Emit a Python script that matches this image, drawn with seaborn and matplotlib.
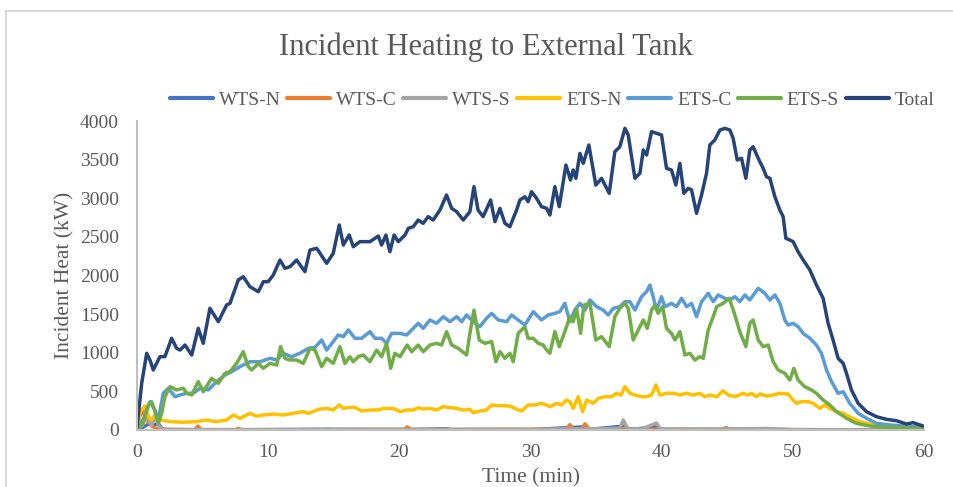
import matplotlib
matplotlib.use("Agg")
import matplotlib.pyplot as plt
from matplotlib.lines import Line2D
import pandas as pd
import seaborn as sns

# Series names and colours (legend order = drawing order)
series_names = ["WTS-N", "WTS-C", "WTS-S", "ETS-N", "ETS-C", "ETS-S", "Total"]
series_colors = ["#4472C4", "#ED7D31", "#A5A5A5", "#FFC000", "#5B9BD5", "#70AD47", "#264478"]

# (time [min], incident heat [kW]) samples for each surface group
wts_n = [(0, 0), (0.5, 40), (0.9, 80), (1.3, 60), (1.6, 90), (1.9, 20), (2.3, 0), (10, 5),
         (14.5, 10), (20, 5), (23.6, 15), (24, 5), (30, 5), (34.0, 40), (34.3, 5), (37.1, 50),
         (37.4, 5), (39.6, 40), (39.9, 5), (45, 5), (50, 0), (60, 0)]

wts_c = [(0, 0), (0.2, 180), (0.5, 240), (0.8, 130), (1.1, 50), (1.5, 20), (2.0, 10), (4.4, 5),
         (4.65, 50), (4.9, 5), (7.5, 5), (7.7, 20), (8, 5), (15, 5), (20.4, 10), (20.6, 40),
         (20.9, 5), (26, 10), (31, 10), (32.7, 10), (33.0, 70), (33.3, 10), (33.9, 15),
         (34.15, 80), (34.5, 10), (37, 15), (37.3, 30), (37.6, 10), (41, 10), (44.6, 10),
         (44.9, 30), (45.2, 10), (48, 10), (50, 5), (60, 0)]

wts_s = [(0, 0), (0.4, 60), (0.8, 200), (1.1, 60), (1.4, 170), (1.7, 40), (2.1, 5), (10, 3),
         (20, 5), (30, 5), (33.2, 15), (36.8, 20), (37.07, 130), (37.4, 20), (38.5, 15),
         (39.6, 90), (39.9, 15), (42, 10), (46, 15), (48, 20), (50, 5), (60, 0)]

ets_n = [(0, 0), (0.23, 237), (0.61, 310), (0.86, 172), (1.1, 130), (1.4, 200), (1.75, 129),
         (2.5, 110), (3.5, 100), (4.5, 108), (5.3, 129), (6.0, 108), (6.83, 129), (7.34, 194),
         (7.85, 151), (8.61, 216), (9.1, 180), (9.63, 194), (10.4, 206), (11.15, 194),
         (11.9, 216), (12.68, 237), (13.1, 216), (13.82, 267), (14.46, 280), (14.96, 259),
         (15.42, 324), (15.73, 280), (16.23, 293), (16.62, 293), (17.13, 246), (17.76, 259),
         (18.4, 259), (18.78, 280), (19.28, 280), (19.66, 272), (20.05, 237), (20.56, 259),
         (21.06, 259), (21.44, 289), (21.82, 272), (22.33, 280), (22.84, 259), (23.35, 302),
         (23.86, 289), (24.37, 280), (24.87, 259), (25.38, 267), (25.63, 224), (26.14, 246),
         (26.65, 259), (27.04, 324), (27.54, 315), (28.05, 315), (28.43, 310), (28.94, 270),
         (29.32, 246), (29.82, 324), (30.33, 324), (30.84, 345), (31.2, 324), (31.48, 302),
         (32.0, 345), (32.37, 324), (32.75, 388), (33.0, 367), (33.26, 280), (33.64, 431),
         (33.97, 237), (34.28, 388), (34.79, 345), (35.17, 410), (35.67, 431), (36.18, 431),
         (36.56, 475), (36.9, 453), (37.2, 561), (37.58, 475), (37.96, 453), (38.47, 431),
         (38.85, 431), (39.23, 453), (39.56, 582), (39.86, 453), (40.37, 475), (40.9, 475),
         (41.4, 453), (41.9, 475), (42.4, 453), (42.91, 475), (43.3, 431), (43.67, 453),
         (44.2, 431), (44.69, 509), (45.07, 453), (45.58, 431), (46.21, 475), (46.59, 453),
         (46.85, 475), (47.23, 431), (47.49, 466), (48.0, 440), (48.5, 453), (49.01, 475),
         (49.64, 466), (50.02, 388), (50.28, 345), (50.66, 367), (51.17, 367), (51.55, 345),
         (52.06, 280), (52.44, 324), (52.82, 280), (53.33, 237), (53.84, 216), (54.34, 172),
         (55.11, 108), (56.13, 65), (57.4, 43), (59.93, 22)]

ets_c = [(0, 0), (0.3, 80), (0.61, 194), (0.99, 366), (1.37, 259), (1.62, 129), (2.0, 475),
         (2.39, 540), (2.9, 431), (3.28, 453), (3.79, 475), (4.29, 475), (4.8, 540), (5.43, 518),
         (6.07, 626), (6.71, 712), (7.22, 755), (7.85, 820), (8.61, 884), (9.38, 884),
         (10.14, 928), (10.65, 906), (11.15, 993), (11.79, 949), (12.42, 993), (13.06, 1057),
         (13.57, 1070), (14.08, 1165), (14.46, 1035), (14.96, 1144), (15.34, 1230),
         (15.73, 1208), (16.11, 1295), (16.62, 1187), (17.13, 1187), (17.76, 1273),
         (18.14, 1187), (18.65, 1187), (19.03, 1122), (19.41, 1251), (20.05, 1251),
         (20.56, 1230), (21.06, 1316), (21.44, 1381), (21.82, 1316), (22.33, 1424),
         (22.84, 1381), (23.35, 1467), (23.86, 1402), (24.37, 1467), (24.75, 1402),
         (25.13, 1489), (25.63, 1402), (26.14, 1338), (26.65, 1446), (27.04, 1510),
         (27.54, 1424), (28.18, 1402), (28.56, 1489), (29.06, 1424), (29.57, 1359),
         (30.21, 1532), (30.84, 1424), (31.35, 1489), (31.86, 1510), (32.24, 1532),
         (32.62, 1640), (33.0, 1402), (33.38, 1553), (33.77, 1640), (34.15, 1553),
         (34.53, 1683), (35.04, 1597), (35.54, 1553), (35.92, 1489), (36.31, 1575),
         (36.81, 1597), (37.2, 1661), (37.58, 1661), (37.96, 1553), (38.47, 1726),
         (38.85, 1790), (39.1, 1877), (39.35, 1726), (39.61, 1553), (39.99, 1726),
         (40.24, 1597), (40.75, 1640), (41.13, 1597), (41.52, 1705), (41.9, 1597),
         (42.28, 1640), (42.66, 1467), (43.04, 1661), (43.55, 1769), (43.93, 1661),
         (44.31, 1748), (44.82, 1705), (45.2, 1683), (45.58, 1726), (45.96, 1661),
         (46.34, 1748), (46.72, 1683), (47.36, 1834), (47.87, 1769), (48.25, 1683),
         (48.63, 1748), (49.01, 1640), (49.39, 1424), (49.64, 1359), (50.02, 1381),
         (50.4, 1338), (50.79, 1251), (51.3, 1187), (51.8, 1100), (52.18, 993), (52.57, 777),
         (52.95, 626), (53.45, 475), (53.84, 496), (54.34, 345), (54.98, 216), (55.62, 151),
         (56.38, 86), (57.4, 65), (58.4, 52), (59.93, 35)]

ets_s = [(0, 0), (0.48, 108), (0.86, 324), (1.12, 366), (1.37, 237), (1.62, 86), (1.88, 216),
         (2.13, 431), (2.52, 561), (3.02, 518), (3.53, 540), (3.79, 475), (4.17, 453),
         (4.67, 626), (5.05, 496), (5.69, 669), (6.2, 604), (6.71, 734), (7.09, 755),
         (7.6, 863), (8.1, 1014), (8.48, 820), (8.74, 777), (9.25, 863), (9.63, 798),
         (10.14, 863), (10.65, 841), (10.95, 1079), (11.28, 928), (11.66, 906), (12.17, 906),
         (12.68, 863), (13.19, 1057), (13.57, 1035), (14.08, 820), (14.46, 928), (14.96, 863),
         (15.47, 1079), (15.85, 863), (16.23, 949), (16.49, 884), (16.87, 949), (17.25, 971),
         (17.76, 884), (18.27, 1035), (18.65, 949), (19.03, 1122), (19.34, 798), (19.66, 993),
         (20.05, 949), (20.6, 1100), (20.94, 1014), (21.44, 1100), (21.82, 1014), (22.33, 1100),
         (22.84, 1122), (23.22, 1100), (23.6, 1273), (23.99, 1100), (24.49, 1057), (25.13, 971),
         (25.38, 1251), (25.69, 1553), (26.09, 1165), (26.52, 1122), (27.04, 1144),
         (27.36, 884), (27.67, 1014), (28.05, 928), (28.43, 993), (28.68, 884), (29.06, 1251),
         (29.57, 1338), (29.82, 1187), (30.21, 1187), (30.59, 1122), (30.97, 1100),
         (31.23, 1035), (31.48, 993), (31.86, 1273), (32.19, 1079), (32.62, 1273),
         (33.0, 1467), (33.26, 1402), (33.51, 1575), (33.82, 1251), (34.07, 1618),
         (34.53, 1640), (34.98, 1165), (35.42, 1208), (36.0, 1079), (36.43, 1467),
         (36.81, 1575), (37.2, 1640), (37.45, 1575), (37.83, 1165), (38.22, 1295),
         (38.6, 1424), (38.9, 1316), (39.23, 1553), (39.48, 1618), (39.73, 1510),
         (40.07, 1597), (40.37, 1316), (40.75, 1251), (41.01, 1165), (41.39, 1273),
         (41.77, 971), (42.15, 993), (42.53, 906), (42.91, 949), (43.17, 928), (43.55, 1295),
         (43.93, 1467), (44.2, 1597), (44.69, 1640), (45.15, 1705), (45.5, 1532),
         (45.96, 1273), (46.42, 1079), (46.72, 1381), (46.97, 1424), (47.36, 1165),
         (47.74, 1079), (48.12, 1100), (48.5, 884), (48.88, 777), (49.39, 734), (49.77, 647),
         (50.08, 798), (50.4, 647), (50.91, 561), (51.42, 518), (51.8, 475), (52.31, 388),
         (52.82, 324), (53.33, 237), (54.09, 151), (54.85, 86), (55.87, 52), (57.14, 35),
         (59.93, 22)]

total = [(0, 30), (0.36, 608), (0.74, 993), (1.0, 900), (1.24, 777), (1.75, 949), (2.13, 950),
         (2.64, 1187), (3.02, 1057), (3.28, 1035), (3.66, 1100), (4.17, 971), (4.67, 1316),
         (5.05, 1122), (5.56, 1575), (6.2, 1402), (6.83, 1618), (7.09, 1640), (7.72, 1942),
         (8.1, 1985), (8.61, 1855), (9.25, 1790), (9.63, 1920), (10.0, 1920), (10.39, 2006),
         (10.9, 2200), (11.28, 2093), (11.66, 2114), (12.17, 2200), (12.8, 2050), (13.19, 2330),
         (13.7, 2352), (14.46, 2158), (14.96, 2287), (15.42, 2654), (15.73, 2395),
         (16.18, 2524), (16.49, 2373), (17.0, 2438), (17.76, 2438), (18.4, 2511),
         (18.65, 2395), (18.98, 2524), (19.28, 2308), (19.6, 2524), (19.92, 2438),
         (20.43, 2524), (20.69, 2611), (21.06, 2632), (21.44, 2718), (21.82, 2675),
         (22.2, 2762), (22.58, 2718), (23.1, 2848), (23.6, 3042), (23.99, 2869), (24.37, 2826),
         (24.87, 2718), (25.38, 2826), (25.69, 3150), (26.0, 2848), (26.39, 2762),
         (26.96, 2977), (27.29, 2697), (27.67, 2869), (28.05, 2675), (28.43, 2632),
         (28.94, 2848), (29.19, 2977), (29.57, 3020), (29.82, 2956), (30.08, 3085),
         (30.46, 2999), (30.84, 2891), (31.23, 2869), (31.48, 2783), (31.86, 3150),
         (32.19, 2891), (32.7, 3430), (33.05, 3236), (33.25, 3366), (33.46, 3258),
         (33.77, 3581), (34.02, 3452), (34.45, 3689), (34.98, 3171), (35.42, 3258),
         (36.0, 3064), (36.43, 3602), (36.81, 3667), (37.2, 3905), (37.45, 3819),
         (37.96, 3258), (38.34, 3323), (38.6, 3625), (38.85, 3560), (39.23, 3862),
         (39.61, 3840), (39.99, 3819), (40.37, 3387), (40.75, 3366), (41.08, 3171),
         (41.39, 3452), (41.69, 3064), (42.02, 3128), (42.28, 3107), (42.66, 2805),
         (43.04, 3042), (43.42, 3323), (43.67, 3689), (44.05, 3754), (44.44, 3883),
         (44.82, 3905), (45.2, 3883), (45.45, 3776), (45.76, 3495), (46.09, 3517),
         (46.42, 3258), (46.72, 3625), (46.97, 3667), (47.36, 3517), (47.74, 3387),
         (47.99, 3279), (48.25, 3258), (48.63, 3020), (49.01, 2848), (49.26, 2762),
         (49.47, 2481), (49.77, 2460), (50.02, 2438), (50.4, 2308), (50.79, 2200),
         (51.3, 2071), (51.8, 1877), (52.31, 1705), (52.69, 1381), (53.07, 1165),
         (53.45, 928), (53.84, 863), (54.09, 734), (54.47, 518), (54.98, 345), (55.62, 237),
         (56.38, 172), (57.14, 138), (57.9, 120), (58.67, 78), (59.17, 95), (59.93, 52)]

x_ticks = [0, 10, 20, 30, 40, 50, 60]
y_ticks = [0, 500, 1000, 1500, 2000, 2500, 3000, 3500, 4000]

frames = []
for name, pts in zip(series_names, [wts_n, wts_c, wts_s, ets_n, ets_c, ets_s, total]):
    t, q = zip(*pts)
    frames.append(pd.DataFrame({"time": t, "heat": q, "series": name}))
df = pd.concat(frames, ignore_index=True)

sns.set_theme(style="white")
plt.rcParams["font.family"] = ["Liberation Serif", "DejaVu Serif"]

text_color = "#595959"
W, H = 954, 487
fig = plt.figure(figsize=(W / 100, H / 100), dpi=100)
fig.patch.set_facecolor("white")

ax = fig.add_axes([137 / W, 1 - 430 / H, (924 - 137) / W, (430 - 121) / H])
sns.lineplot(data=df, x="time", y="heat", hue="series", hue_order=series_names,
             palette=series_colors, estimator=None, sort=True, linewidth=2.5,
             solid_joinstyle="round", solid_capstyle="round",
             legend=False, ax=ax)

ax.set_xlim(0, 60)
ax.set_ylim(0, 4000)
ax.set_xticks(x_ticks)
ax.set_yticks(y_ticks)
ax.set_xticklabels([str(v) for v in x_ticks])
ax.set_yticklabels([str(v) for v in y_ticks])
ax.tick_params(axis="both", length=0, labelsize=14, labelcolor=text_color)
ax.tick_params(axis="y", pad=13)
ax.tick_params(axis="x", pad=10)
for side in ["top", "right"]:
    ax.spines[side].set_visible(False)
for side in ["left", "bottom"]:
    ax.spines[side].set_color("#BFBFBF")
    ax.spines[side].set_linewidth(1.5)
ax.set_xlabel("Time (min)", fontsize=15.5, color=text_color, labelpad=5)
ax.set_ylabel("Incident Heat (kW)", fontsize=15.5, color=text_color, labelpad=4)
ax.grid(False)

fig.text(486 / W, 1 - 47 / H, "Incident Heating to External Tank", fontsize=22,
         color=text_color, ha="center", va="center")

handles = [Line2D([0], [0], color=c, lw=3) for c in series_colors]
fig.legend(handles, series_names, loc="center", bbox_to_anchor=(552 / W, 1 - 100 / H),
           ncol=7, frameon=False, fontsize=14, handlelength=2.2, handletextpad=0.3,
           columnspacing=0.35, borderaxespad=0, labelcolor=text_color)

# chart-area frame (left and top edges)
x0, y0 = 6 / W, 1 - 11 / H
fig.add_artist(Line2D([x0, x0], [-0.1, y0], transform=fig.transFigure, color="#D9D9D9", lw=1.5))
fig.add_artist(Line2D([x0, 1.1], [y0, y0], transform=fig.transFigure, color="#D9D9D9", lw=1.5))

fig.savefig("out.png", dpi=100, facecolor="white")
